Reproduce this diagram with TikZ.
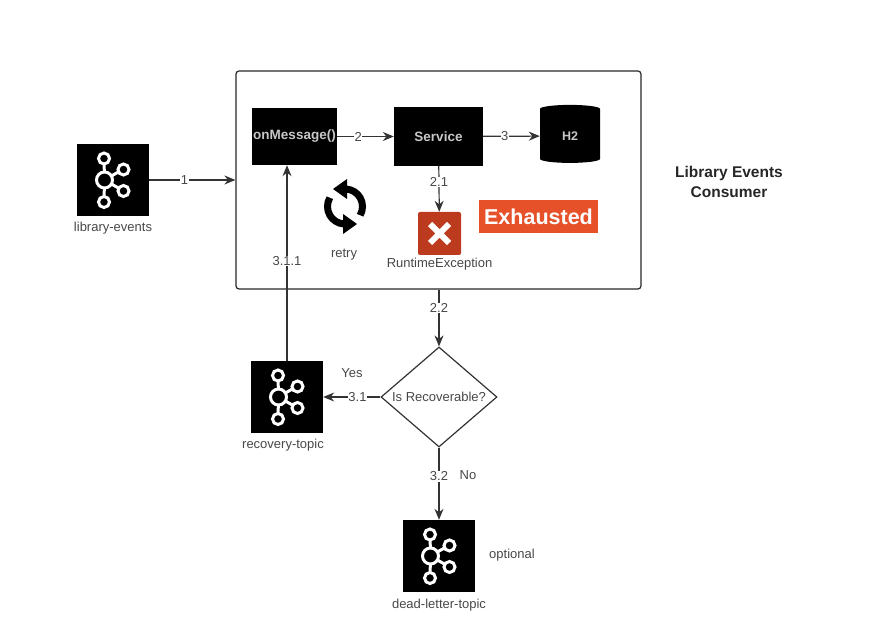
\documentclass[tikz,border=0pt]{standalone}
\usepackage{fontspec}
\setmainfont{Liberation Sans}
\usetikzlibrary{shapes,shapes.geometric,arrows,arrows.meta,positioning}
\definecolor{failred}{HTML}{BC3A1E}
\definecolor{badgered}{HTML}{E6512A}

\begin{document}
\begin{tikzpicture}[
  x=1pt, y=1pt,
  caption/.style={inner sep=0pt, text=black!72, font=\fontsize{13}{15}\selectfont},
  step box/.style={rectangle, fill=black, inner sep=0pt, text=black!22,
                font=\fontsize{13.5}{15}\selectfont\bfseries},
  topic/.style={rectangle, fill=black, minimum size=72pt, inner sep=0pt},
  arrow/.style={-{Stealth[length=11pt,width=9pt]}, line width=1.2pt, black!80},
  num/.style={fill=white, inner sep=0.5pt, text=black!72, font=\fontsize{13}{15}\selectfont},
  broker/.pic={
    \draw[white, line width=3pt] (-8.5,0) -- (-9,22) (-8.5,0) -- (-9,-22) (-8.5,0) -- (10.5,11) (-8.5,0) -- (10.5,-11);
    \foreach \bx/\by/\br in {-8.5/0/8, -9/21.5/5.5, -9/-22/5.5, 10.5/10.5/5.5, 10.5/-11/5.5}
      \draw[white, fill=black, line width=3pt] (\bx,\by) circle (\br);
  }
]
\useasboundingbox (0,0) rectangle (877,624);

\node[rectangle, rounded corners=3pt, draw=black!85, line width=1.2pt, minimum width=405pt, minimum height=218pt] (consumer) at (438.5,444) {};
\node[step box, minimum width=85pt, minimum height=57pt] (onmessage) at (294.5,487.5) {onMessage()};
\node[step box, minimum width=89pt, minimum height=59pt] (service) at (438.5,487.5) {Service};
\node[cylinder, shape border rotate=90, aspect=0.5, fill=black, minimum width=60pt, minimum height=58pt, inner sep=0pt, text=black!22, font=\fontsize{12.5}{15}\selectfont\bfseries] (db) at (570,488) {\raisebox{-5pt}{H2}};
\node[rectangle, rounded corners=2pt, fill=failred, minimum size=43pt, inner sep=0pt] (failed) at (439.5,390.5) {};
\node[rectangle, fill=badgered, minimum width=119pt, minimum height=33pt, inner sep=0pt, text=white, font=\fontsize{21.5}{24}\selectfont\bfseries] (exhausted) at (538.5,407.5) {Exhausted};
\draw[white, line width=6pt] (430,381) -- (449,400) (430,400) -- (449,381);
\node[caption, below=3pt of failed] (failedtext) {RuntimeException};

% retry arrows
\coordinate (retry) at (345,417.5);
\draw[black, line width=7pt] ([shift={(-30:17.5)}]retry) arc (-30:85:17.5);
\draw[black, line width=7pt] ([shift={(150:17.5)}]retry) arc (150:265:17.5);
\fill[black] ([shift={(-12,17.5)}]retry) -- ([shift={(2,27.5)}]retry) -- ([shift={(2,7.5)}]retry) -- cycle;
\fill[black] ([shift={(12,-17.5)}]retry) -- ([shift={(-2,-27.5)}]retry) -- ([shift={(-2,-7.5)}]retry) -- cycle;
\node[caption] (retrytext) at (344,369) {retry};

\node[topic] (events) at (113,444) {};
\pic at (events) {broker};
\node[caption, below=6pt of events] (eventstext) {library-events};

\node[diamond, aspect=1.16, draw=black!80, line width=1.2pt, minimum width=116pt, minimum height=100pt, inner sep=0pt, text=black!72, font=\fontsize{13}{15}\selectfont] (decision) at (439,227) {Is Recoverable?};

\node[topic] (recovery) at (287,227) {};
\pic at (recovery) {broker};
\node[caption, below=6pt of recovery, xshift=-4pt] (recoverytext) {recovery-topic};

\node[topic] (deadletter) at (439,68) {};
\pic at (deadletter) {broker};
\node[caption, below=7pt of deadletter] (deadlettertext) {dead-letter-topic};

\node[caption] (yes) at (352,251) {Yes};
\node[caption] (no) at (468,149) {No};
\node[caption] (optional) at (512,69) {optional};
\node[align=center, inner sep=0pt, font=\fontsize{15.5}{20}\selectfont\bfseries, text=black!85] (title) at (729,442) {Library Events\\Consumer};

\draw[arrow] (events) -- (events -| consumer.west) node[num, pos=0.41] {1};
\draw[arrow] (onmessage) -- (service) node[num, pos=0.37] {2};
\draw[arrow] (service) -- (db) node[num, pos=0.38] {3};
\draw[arrow] (service) -- (failed) node[num, pos=0.35] {2.1};
\draw[arrow] (decision |- consumer.south) -- (decision) node[num, pos=0.32] {2.2};
\draw[arrow] (decision) -- (recovery) node[num, pos=0.4] {3.1};
\draw[arrow] (recovery) -- (recovery |- onmessage.south) node[num, pos=0.51] {3.1.1};
\draw[arrow] (decision) -- (deadletter) node[num, pos=0.4] {3.2};
\end{tikzpicture}
\end{document}
